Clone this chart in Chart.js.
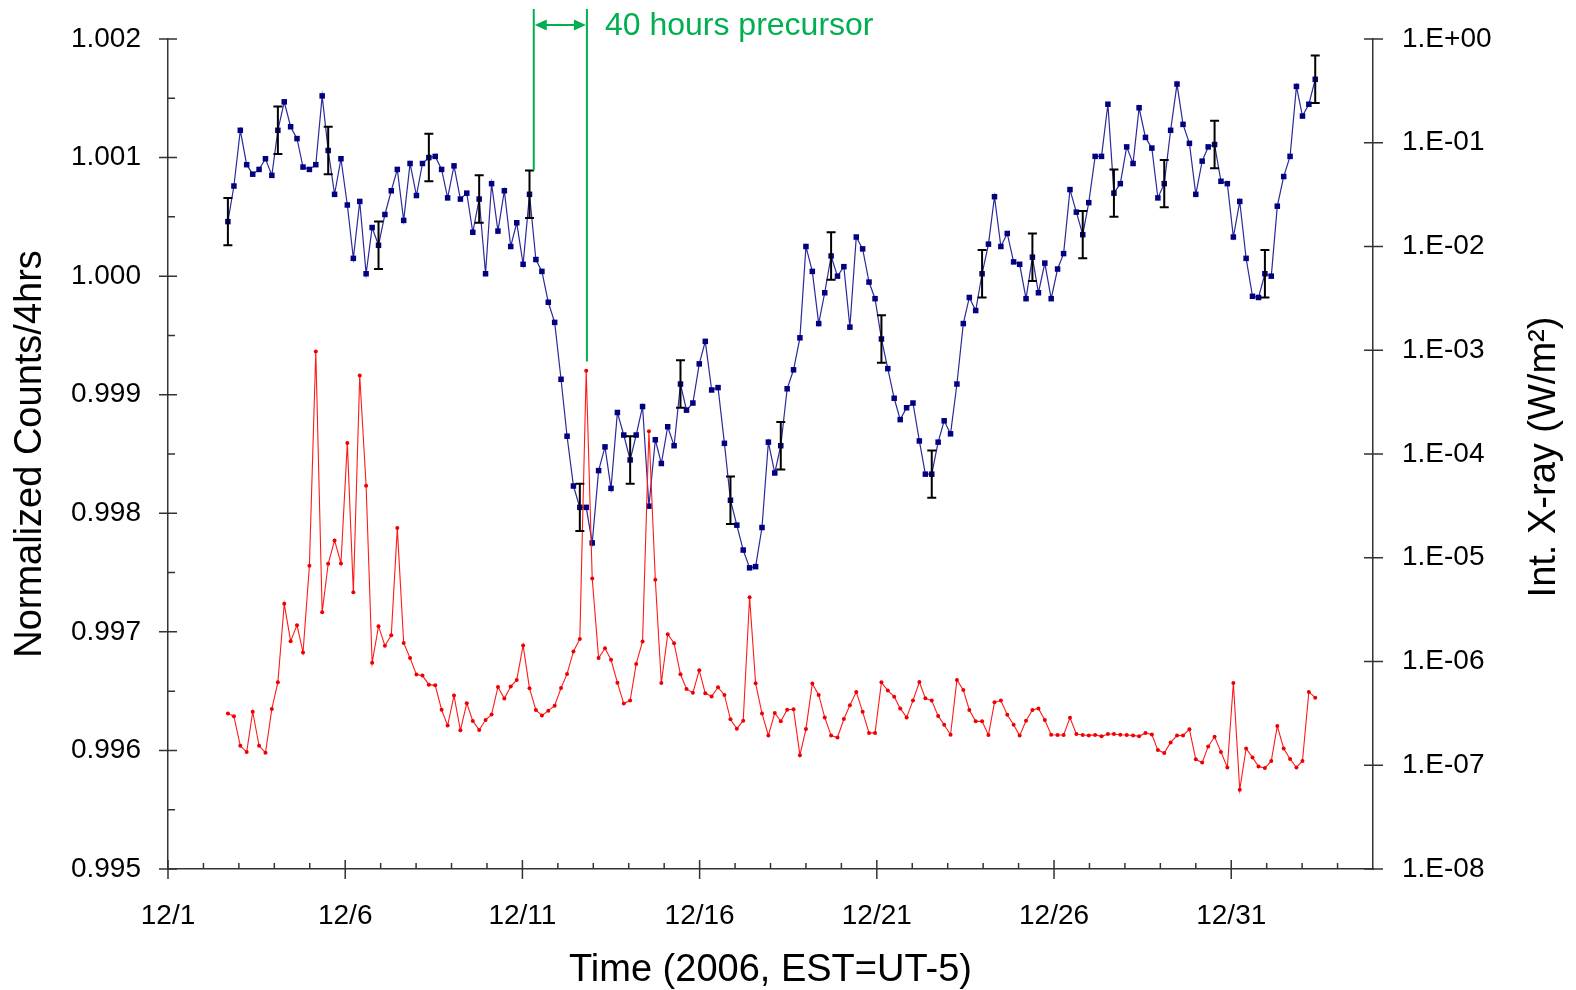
<!DOCTYPE html>
<html>
<head>
<meta charset="utf-8">
<title>Normalized counts and integrated X-ray, December 2006</title>
<script src="https://cdn.jsdelivr.net/npm/chart.js@4.4.1/dist/chart.umd.min.js"></script>
<style>
  html, body { margin: 0; padding: 0; background: #fff; }
  #wrap { width: 1576px; height: 990px; }
</style>
</head>
<body>
<div id="wrap"><canvas id="chart" width="1576" height="990"></canvas></div>
<script>
// Time of each sample, days after 12/1 00:00 (EST)
const timeDays = [
    1.69, 1.86, 2.04, 2.22, 2.39, 2.57, 2.75, 2.93, 3.10, 3.28,
    3.46, 3.64, 3.81, 3.99, 4.17, 4.35, 4.52, 4.70, 4.88, 5.06,
    5.23, 5.41, 5.59, 5.76, 5.94, 6.12, 6.30, 6.47, 6.65, 6.83,
    7.01, 7.18, 7.36, 7.54, 7.72, 7.89, 8.07, 8.25, 8.43, 8.60,
    8.78, 8.96, 9.13, 9.31, 9.49, 9.67, 9.84, 10.02, 10.20, 10.38,
    10.55, 10.73, 10.91, 11.09, 11.26, 11.44, 11.62, 11.80, 11.97, 12.15,
    12.33, 12.50, 12.68, 12.86, 13.04, 13.21, 13.39, 13.57, 13.75, 13.92,
    14.10, 14.28, 14.46, 14.63, 14.81, 14.99, 15.16, 15.34, 15.52, 15.70,
    15.87, 16.05, 16.23, 16.41, 16.58, 16.76, 16.94, 17.12, 17.29, 17.47,
    17.65, 17.83, 18.00, 18.18, 18.36, 18.53, 18.71, 18.89, 19.07, 19.24,
    19.42, 19.60, 19.78, 19.95, 20.13, 20.31, 20.49, 20.66, 20.84, 21.02,
    21.20, 21.37, 21.55, 21.73, 21.90, 22.08, 22.26, 22.44, 22.61, 22.79,
    22.97, 23.15, 23.32, 23.50, 23.68, 23.86, 24.03, 24.21, 24.39, 24.56,
    24.74, 24.92, 25.10, 25.27, 25.45, 25.63, 25.81, 25.98, 26.16, 26.34,
    26.52, 26.69, 26.87, 27.05, 27.23, 27.40, 27.58, 27.76, 27.93, 28.11,
    28.29, 28.47, 28.64, 28.82, 29.00, 29.18, 29.35, 29.53, 29.71, 29.89,
    30.06, 30.24, 30.42, 30.60, 30.77, 30.95, 31.13, 31.30, 31.48, 31.66,
    31.84, 32.01, 32.19, 32.37
];

// Normalized counts per 4 hours (left axis)
const blueCounts = [
    1.00046, 1.00076, 1.00123, 1.00094, 1.00086, 1.00090, 1.00099, 1.00085, 1.00123, 1.00147,
    1.00126, 1.00116, 1.00092, 1.00090, 1.00094, 1.00152, 1.00106, 1.00069, 1.00099, 1.00060,
    1.00015, 1.00063, 1.00002, 1.00041, 1.00026, 1.00052, 1.00072, 1.00090, 1.00047, 1.00095,
    1.00068, 1.00095, 1.00100, 1.00101, 1.00090, 1.00066, 1.00093, 1.00065, 1.00070, 1.00037,
    1.00065, 1.00002, 1.00078, 1.00038, 1.00072, 1.00025, 1.00045, 1.00010, 1.00069, 1.00014,
    1.00004, 0.99978, 0.99961, 0.99913, 0.99865, 0.99823, 0.99805, 0.99805, 0.99775, 0.99836,
    0.99856, 0.99821, 0.99885, 0.99866, 0.99845, 0.99866, 0.99890, 0.99806, 0.99862, 0.99842,
    0.99873, 0.99857, 0.99909, 0.99887, 0.99893, 0.99926, 0.99945, 0.99904, 0.99906, 0.99859,
    0.99811, 0.99790, 0.99769, 0.99754, 0.99755, 0.99788, 0.99860, 0.99834, 0.99857, 0.99905,
    0.99921, 0.99948, 1.00025, 1.00004, 0.99960, 0.99986, 1.00017, 1.00000, 1.00008, 0.99957,
    1.00033, 1.00023, 0.99995, 0.99981, 0.99947, 0.99922, 0.99897, 0.99879, 0.99889, 0.99893,
    0.99861, 0.99833, 0.99833, 0.99860, 0.99878, 0.99867, 0.99909, 0.99960, 0.99982, 0.99971,
    1.00002, 1.00027, 1.00067, 1.00025, 1.00036, 1.00012, 1.00010, 0.99981, 1.00016, 0.99986,
    1.00011, 0.99981, 1.00006, 1.00019, 1.00073, 1.00054, 1.00035, 1.00062, 1.00101, 1.00101,
    1.00145, 1.00070, 1.00078, 1.00109, 1.00095, 1.00142, 1.00117, 1.00108, 1.00066, 1.00078,
    1.00123, 1.00162, 1.00128, 1.00112, 1.00069, 1.00097, 1.00109, 1.00111, 1.00080, 1.00078,
    1.00033, 1.00063, 1.00015, 0.99983, 0.99982, 1.00002, 1.00000, 1.00059, 1.00084, 1.00101,
    1.00160, 1.00135, 1.00145, 1.00166
];

// Integrated X-ray flux, W/m^2 (right axis, log)
const xrayFlux = [
    3.16e-7, 2.96e-7, 1.54e-7, 1.34e-7, 3.28e-7, 1.54e-7, 1.32e-7, 3.49e-7, 6.30e-7, 3.60e-6,
    1.57e-6, 2.24e-6, 1.22e-6, 8.37e-6, 9.74e-4, 2.99e-6, 8.75e-6, 1.47e-5, 8.81e-6, 1.28e-4,
    4.66e-6, 5.71e-4, 4.95e-5, 9.70e-7, 2.19e-6, 1.42e-6, 1.79e-6, 1.93e-5, 1.51e-6, 1.08e-6,
    7.48e-7, 7.31e-7, 5.98e-7, 5.89e-7, 3.43e-7, 2.41e-7, 4.69e-7, 2.17e-7, 3.95e-7, 2.67e-7,
    2.19e-7, 2.73e-7, 3.09e-7, 5.69e-7, 4.39e-7, 5.73e-7, 6.64e-7, 1.43e-6, 5.51e-7, 3.41e-7,
    3.01e-7, 3.36e-7, 3.75e-7, 5.56e-7, 7.59e-7, 1.25e-6, 1.65e-6, 6.33e-4, 6.31e-6, 1.08e-6,
    1.34e-6, 1.04e-6, 6.25e-7, 3.93e-7, 4.20e-7, 9.48e-7, 1.56e-6, 1.66e-4, 6.14e-6, 6.21e-7,
    1.83e-6, 1.50e-6, 7.53e-7, 5.44e-7, 5.01e-7, 8.23e-7, 4.93e-7, 4.61e-7, 5.64e-7, 4.76e-7,
    2.77e-7, 2.25e-7, 2.69e-7, 4.17e-6, 6.16e-7, 3.16e-7, 1.94e-7, 3.19e-7, 2.65e-7, 3.43e-7,
    3.46e-7, 1.25e-7, 2.23e-7, 6.12e-7, 4.76e-7, 2.89e-7, 1.93e-7, 1.85e-7, 2.79e-7, 3.78e-7,
    5.09e-7, 3.27e-7, 2.05e-7, 2.05e-7, 6.30e-7, 5.24e-7, 4.58e-7, 3.53e-7, 2.89e-7, 4.20e-7,
    6.35e-7, 4.42e-7, 4.20e-7, 2.99e-7, 2.46e-7, 1.97e-7, 6.64e-7, 5.32e-7, 3.41e-7, 2.65e-7,
    2.65e-7, 1.96e-7, 4.04e-7, 4.20e-7, 3.07e-7, 2.46e-7, 1.93e-7, 2.69e-7, 3.41e-7, 3.53e-7,
    2.73e-7, 1.97e-7, 1.96e-7, 1.96e-7, 2.87e-7, 2.00e-7, 1.96e-7, 1.94e-7, 1.96e-7, 1.90e-7,
    2.00e-7, 2.00e-7, 1.97e-7, 1.96e-7, 1.94e-7, 1.90e-7, 2.05e-7, 1.98e-7, 1.40e-7, 1.31e-7,
    1.66e-7, 1.93e-7, 1.94e-7, 2.22e-7, 1.14e-7, 1.06e-7, 1.52e-7, 1.88e-7, 1.34e-7, 9.52e-8,
    6.21e-7, 5.81e-8, 1.45e-7, 1.19e-7, 9.73e-8, 9.40e-8, 1.10e-7, 2.39e-7, 1.45e-7, 1.15e-7,
    9.52e-8, 1.10e-7, 5.09e-7, 4.48e-7
];

// Error bars: sample index and half-height (counts)
const errorIndex = [0, 8, 16, 24, 32, 40, 48, 56, 64, 72, 80, 88, 96, 104, 112, 120, 128, 136, 141, 149, 157, 165, 173];
const errorHalf = [0.0002, 0.0002, 0.0002, 0.0002, 0.0002, 0.0002, 0.0002, 0.0002, 0.0002, 0.0002, 0.0002, 0.0002,
                   0.0002, 0.0002, 0.0002, 0.0002, 0.0002, 0.0002, 0.0002, 0.0002, 0.0002, 0.0002, 0.0002];

// Axis ticks
const xTickDays = [0, 5, 10, 15, 20, 25, 30];
const xTickLabels = ['12/1', '12/6', '12/11', '12/16', '12/21', '12/26', '12/31'];
const countTicks = [0.995, 0.996, 0.997, 0.998, 0.999, 1.000, 1.001, 1.002];
const countTickLabels = ['0.995', '0.996', '0.997', '0.998', '0.999', '1.000', '1.001', '1.002'];
const xrayTicks = [1e-8, 1e-7, 1e-6, 1e-5, 1e-4, 1e-3, 1e-2, 1e-1, 1];
const xrayTickLabels = ['1.E-08', '1.E-07', '1.E-06', '1.E-05', '1.E-04', '1.E-03', '1.E-02', '1.E-01', '1.E+00'];

// "40 hours precursor" marker: start/end day, and where each line stops (counts)
const precursorDays = [10.32, 11.82];
const precursorStops = [1.00089, 0.99928];

const FONT = '"Liberation Sans", Arial, sans-serif';
const AXIS_COLOR = '#333';
const GREEN = '#00b050';

Chart.defaults.font.family = FONT;
Chart.defaults.color = '#000';

// fixed axis box; the tick label overhang should not push the plot area
function fixVerticalAxis(width) {
    return scale => {
        scale.width = width;
        scale.paddingTop = 0;
        scale.paddingBottom = 0;
    };
}

// Tick marks drawn Excel-style: majors cross the axis, minors inside
const axisTicksPlugin = {
    id: 'axisTicks',
    afterDraw(chart) {
        const { ctx, chartArea: area } = chart;
        const xs = chart.scales.x;
        const yl = chart.scales.yCounts;
        const yr = chart.scales.yXray;
        ctx.save();
        ctx.strokeStyle = AXIS_COLOR;
        ctx.lineWidth = 1.5;
        ctx.beginPath();
        countTicks.forEach(v => {
            const py = yl.getPixelForValue(v);
            ctx.moveTo(area.left - 9, py);
            ctx.lineTo(area.left + 9, py);
        });
        for (let i = 0; i < countTicks.length - 1; i++) {
            const py = yl.getPixelForValue((countTicks[i] + countTicks[i + 1]) / 2);
            ctx.moveTo(area.left, py);
            ctx.lineTo(area.left + 7, py);
        }
        xrayTicks.forEach(v => {
            const py = yr.getPixelForValue(v);
            ctx.moveTo(area.right - 9, py);
            ctx.lineTo(area.right + 10, py);
        });
        xTickDays.forEach(d => {
            const px = xs.getPixelForValue(d);
            ctx.moveTo(px, area.bottom - 9);
            ctx.lineTo(px, area.bottom + 10);
        });
        for (let d = 1; d < xs.max; d++) {
            if (xTickDays.includes(d)) continue;
            const px = xs.getPixelForValue(d);
            ctx.moveTo(px, area.bottom);
            ctx.lineTo(px, area.bottom - 6);
        }
        ctx.stroke();
        ctx.restore();
    }
};

const errorBarPlugin = {
    id: 'errorBars',
    afterDatasetsDraw(chart) {
        const { ctx } = chart;
        const xs = chart.scales.x;
        const ys = chart.scales.yCounts;
        ctx.save();
        ctx.strokeStyle = '#000';
        ctx.lineWidth = 2;
        ctx.beginPath();
        errorIndex.forEach((idx, k) => {
            const px = xs.getPixelForValue(timeDays[idx]);
            const top = ys.getPixelForValue(blueCounts[idx] + errorHalf[k]);
            const bottom = ys.getPixelForValue(blueCounts[idx] - errorHalf[k]);
            ctx.moveTo(px, top);
            ctx.lineTo(px, bottom);
            ctx.moveTo(px - 4.5, top);
            ctx.lineTo(px + 4.5, top);
            ctx.moveTo(px - 4.5, bottom);
            ctx.lineTo(px + 4.5, bottom);
        });
        ctx.stroke();
        ctx.restore();
    }
};

// Green precursor annotation and the right axis title (reads bottom to top)
const annotationPlugin = {
    id: 'precursor',
    afterDraw(chart) {
        const { ctx, chartArea: area } = chart;
        const xs = chart.scales.x;
        const ys = chart.scales.yCounts;
        const left = xs.getPixelForValue(precursorDays[0]);
        const right = xs.getPixelForValue(precursorDays[1]);
        const arrowY = 25;

        ctx.save();
        ctx.strokeStyle = GREEN;
        ctx.fillStyle = GREEN;
        ctx.lineWidth = 2;
        ctx.beginPath();
        ctx.moveTo(left, 9);
        ctx.lineTo(left, ys.getPixelForValue(precursorStops[0]));
        ctx.moveTo(right, 9);
        ctx.lineTo(right, ys.getPixelForValue(precursorStops[1]));
        ctx.moveTo(left + 8, arrowY);
        ctx.lineTo(right - 8, arrowY);
        ctx.stroke();

        ctx.beginPath();
        ctx.moveTo(left + 1, arrowY);
        ctx.lineTo(left + 13, arrowY - 5.5);
        ctx.lineTo(left + 13, arrowY + 5.5);
        ctx.closePath();
        ctx.moveTo(right - 1, arrowY);
        ctx.lineTo(right - 13, arrowY - 5.5);
        ctx.lineTo(right - 13, arrowY + 5.5);
        ctx.closePath();
        ctx.fill();

        ctx.font = '32px ' + FONT;
        ctx.textAlign = 'left';
        ctx.textBaseline = 'alphabetic';
        ctx.fillText('40 hours precursor', right + 18, 35);

        // right axis title
        ctx.fillStyle = '#000';
        ctx.font = '38px ' + FONT;
        ctx.textAlign = 'center';
        ctx.textBaseline = 'middle';
        ctx.translate(1545, (area.top + area.bottom) / 2 + 3);
        ctx.rotate(-Math.PI / 2);
        ctx.fillText('Int. X-ray (W/m\u00B2)', 0, 0);
        ctx.restore();
    }
};

const ctx = document.getElementById('chart').getContext('2d');

new Chart(ctx, {
    type: 'line',
    data: {
        datasets: [{
            label: 'X-ray',
            data: timeDays.map((t, i) => ({ x: t, y: xrayFlux[i] })),
            yAxisID: 'yXray',
            borderColor: '#ff1a1a',
            borderWidth: 1.1,
            pointStyle: 'circle',
            pointRadius: 2,
            pointBackgroundColor: '#ee0000',
            pointBorderColor: '#ee0000',
            pointBorderWidth: 0,
            tension: 0,
            order: 0
        }, {
            label: 'Counts',
            data: timeDays.map((t, i) => ({ x: t, y: blueCounts[i] })),
            yAxisID: 'yCounts',
            borderColor: '#2a2a9a',
            borderWidth: 1.2,
            pointStyle: 'rect',
            pointRadius: 3.9,
            pointBackgroundColor: '#000080',
            pointBorderColor: '#000080',
            pointBorderWidth: 0,
            tension: 0,
            order: 1
        }]
    },
    options: {
        responsive: false,
        animation: false,
        devicePixelRatio: 1,
        layout: { padding: { top: 39, left: 0, right: 0, bottom: 0 } },
        plugins: {
            legend: { display: false },
            tooltip: { enabled: false }
        },
        scales: {
            x: {
                type: 'linear',
                min: 0,
                max: 34,
                grid: { display: false, drawTicks: false },
                border: { display: true, color: AXIS_COLOR, width: 1.5 },
                afterBuildTicks: scale => { scale.ticks = xTickDays.map(v => ({ value: v })); },
                afterFit: scale => { scale.height = 121; },
                ticks: {
                    padding: 30,
                    color: '#000',
                    font: { size: 28 },
                    autoSkip: false,
                    maxRotation: 0,
                    callback: (value, index) => xTickLabels[index]
                },
                title: {
                    display: true,
                    text: 'Time (2006, EST=UT-5)',
                    color: '#000',
                    font: { size: 38, lineHeight: 1.0 },
                    padding: { top: 0, bottom: 0 }
                }
            },
            yCounts: {
                type: 'linear',
                position: 'left',
                min: 0.995,
                max: 1.002,
                grid: { display: false, drawTicks: false },
                border: { display: true, color: AXIS_COLOR, width: 1.5 },
                afterBuildTicks: scale => { scale.ticks = countTicks.map(v => ({ value: v })); },
                afterFit: fixVerticalAxis(168),
                ticks: {
                    padding: 27,
                    color: '#000',
                    font: { size: 28 },
                    callback: (value, index) => countTickLabels[index]
                },
                title: {
                    display: true,
                    text: 'Normalized Counts/4hrs',
                    color: '#000',
                    font: { size: 38 },
                    padding: { top: 8, bottom: 0 }
                }
            },
            yXray: {
                type: 'logarithmic',
                position: 'right',
                min: 1e-8,
                max: 1,
                grid: { display: false, drawTicks: false },
                border: { display: true, color: AXIS_COLOR, width: 1.5 },
                afterBuildTicks: scale => { scale.ticks = xrayTicks.map(v => ({ value: v })); },
                afterFit: fixVerticalAxis(203),
                ticks: {
                    padding: 29,
                    color: '#000',
                    font: { size: 28 },
                    callback: (value, index) => xrayTickLabels[index]
                }
            }
        }
    },
    plugins: [axisTicksPlugin, errorBarPlugin, annotationPlugin]
});
</script>
</body>
</html>
